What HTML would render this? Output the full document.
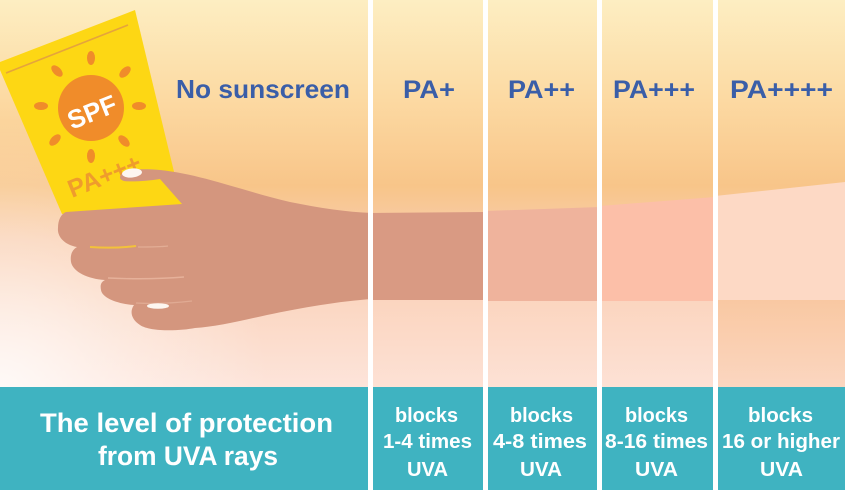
<!DOCTYPE html>
<html>
<head>
<meta charset="utf-8">
<style>
  html, body { margin: 0; padding: 0; width: 845px; height: 490px; overflow: hidden; background: #fbd8b8; }
  svg { display: block; }
  text { font-family: "Liberation Sans", sans-serif; font-weight: bold; }
</style>
</head>
<body>
<svg width="845" height="490" viewBox="0 0 845 490" xmlns="http://www.w3.org/2000/svg">
  <defs>
    <linearGradient id="bg" x1="0" y1="0" x2="0" y2="387" gradientUnits="userSpaceOnUse">
      <stop offset="0" stop-color="#fdeec2"/>
      <stop offset="0.25" stop-color="#fcdaa3"/>
      <stop offset="0.48" stop-color="#f8c589"/>
      <stop offset="0.62" stop-color="#f9cdae"/>
      <stop offset="0.8" stop-color="#fbd8c4"/>
      <stop offset="1" stop-color="#fde4da"/>
    </linearGradient>
    <radialGradient id="glow" cx="0" cy="390" r="270" gradientUnits="userSpaceOnUse">
      <stop offset="0" stop-color="#ffffff" stop-opacity="0.8"/>
      <stop offset="0.5" stop-color="#ffffff" stop-opacity="0.35"/>
      <stop offset="1" stop-color="#ffffff" stop-opacity="0"/>
    </radialGradient>
    <linearGradient id="c4low" x1="0" y1="300" x2="0" y2="387" gradientUnits="userSpaceOnUse">
      <stop offset="0" stop-color="#f9c8a2"/>
      <stop offset="1" stop-color="#fbd6c0"/>
    </linearGradient>
    <linearGradient id="clow" x1="0" y1="300" x2="0" y2="387" gradientUnits="userSpaceOnUse">
      <stop offset="0" stop-color="#fbd5bf"/>
      <stop offset="1" stop-color="#fde1d5"/>
    </linearGradient>
  </defs>

  <!-- background -->
  <rect x="0" y="0" width="845" height="490" fill="url(#bg)"/>
  <rect x="0" y="0" width="373" height="387" fill="url(#glow)"/>

  <!-- lower sections in columns -->
  <rect x="373" y="300" width="345" height="87" fill="url(#clow)"/>
  <rect x="718" y="300" width="127" height="87" fill="url(#c4low)"/>

  <!-- arm segments -->
  <polygon points="370,213 485,212 485,300 370,300" fill="#d99a83"/>
  <polygon points="485,211 600,207 600,301 485,301" fill="#efb39c"/>
  <polygon points="600,206 715,197 715,301 600,301" fill="#fcbfa8"/>
  <polygon points="715,196 845,182 845,300 715,300" fill="#fdd9c5"/>

  <!-- sunscreen tube -->
  <polygon points="0,62 135,10 182,205 62,214 0,70" fill="#fdd714"/>
  <line x1="6" y1="73" x2="128" y2="25" stroke="#e5a43c" stroke-width="1.6"/>
  <!-- sun -->
  <g fill="#f08c2a">
    <circle cx="91" cy="108" r="33"/>
    <ellipse cx="91" cy="58" rx="4" ry="7"/>
    <ellipse cx="91" cy="156" rx="4" ry="7"/>
    <ellipse cx="41" cy="106" rx="7" ry="4"/>
    <ellipse cx="139" cy="106" rx="7" ry="4"/>
    <ellipse cx="57" cy="71" rx="4" ry="7" transform="rotate(-45 57 71)"/>
    <ellipse cx="125" cy="72" rx="4" ry="7" transform="rotate(45 125 72)"/>
    <ellipse cx="55" cy="140" rx="4" ry="7" transform="rotate(45 55 140)"/>
    <ellipse cx="124" cy="141" rx="4" ry="7" transform="rotate(-45 124 141)"/>
  </g>
  <text x="92" y="121" text-anchor="middle" font-size="26" fill="#ffffff" transform="rotate(-22 92 112)">SPF</text>
  <text x="72" y="198" font-size="25" fill="#ef9c2c" transform="rotate(-22 72 198)">PA+++</text>

  <!-- hand -->
  <path d="M 120,177
           C 121,170 135,168 160,170
           C 200,174 240,190 290,202
           C 320,208 345,212 373,213
           L 373,299
           C 340,301 300,308 267,315
           C 240,321 215,327 195,328
           C 180,331 150,332 140,325
           C 132,320 129,312 134,305
           C 118,304 102,298 101,290
           C 100,285 101,282 105,280
           C 88,279 73,272 71,262
           C 70,255 72,250 77,247
           C 65,245 57,237 58,228
           C 58,220 61,214 66,212
           L 182,204
           L 160,179
           C 148,181 132,182 124,181
           C 121,180 120,179 120,177 Z" fill="#d4967e"/>
  <!-- finger details -->
  <path d="M 90,247 C 105,248 120,248 136,246" stroke="#f3c23a" stroke-width="2" fill="none"/>
  <path d="M 138,247 C 150,247 160,247 168,246" stroke="#e2ad95" stroke-width="1.2" fill="none"/>
  <path d="M 108,278 C 130,279 160,279 184,277" stroke="#e6b19a" stroke-width="1.4" fill="none"/>
  <path d="M 136,303 C 155,304 175,303 192,301" stroke="#e0aa93" stroke-width="1.2" fill="none"/>
  <ellipse cx="132" cy="173" rx="10" ry="4.5" fill="#fdf6f0" transform="rotate(-6 132 173)"/>
  <ellipse cx="158" cy="306" rx="11" ry="2.8" fill="#fdf6f0"/>

  <!-- headings -->
  <text x="176" y="98" font-size="26" fill="#3a5ea8" textLength="174" lengthAdjust="spacingAndGlyphs">No sunscreen</text>
  <text x="403" y="98" font-size="25" fill="#3a5ea8" textLength="52" lengthAdjust="spacingAndGlyphs">PA+</text>
  <text x="508" y="98" font-size="25" fill="#3a5ea8" textLength="67" lengthAdjust="spacingAndGlyphs">PA++</text>
  <text x="613" y="98" font-size="25" fill="#3a5ea8" textLength="82" lengthAdjust="spacingAndGlyphs">PA+++</text>
  <text x="730" y="98" font-size="25" fill="#3a5ea8" textLength="103" lengthAdjust="spacingAndGlyphs">PA++++</text>

  <!-- teal band -->
  <rect x="0" y="387" width="845" height="103" fill="#3fb3c1"/>

  <text x="40" y="432" font-size="27" fill="#ffffff" textLength="293" lengthAdjust="spacingAndGlyphs">The level of protection</text>
  <text x="98" y="465" font-size="27" fill="#ffffff" textLength="180" lengthAdjust="spacingAndGlyphs">from UVA rays</text>

  <g font-size="20" fill="#ffffff">
    <text x="395" y="422" textLength="63" lengthAdjust="spacingAndGlyphs">blocks</text>
    <text x="383" y="448" textLength="89" lengthAdjust="spacingAndGlyphs">1-4 times</text>
    <text x="407" y="476" textLength="41" lengthAdjust="spacingAndGlyphs">UVA</text>

    <text x="510" y="422" textLength="63" lengthAdjust="spacingAndGlyphs">blocks</text>
    <text x="493" y="448" textLength="94" lengthAdjust="spacingAndGlyphs">4-8 times</text>
    <text x="520" y="476" textLength="42" lengthAdjust="spacingAndGlyphs">UVA</text>

    <text x="625" y="422" textLength="63" lengthAdjust="spacingAndGlyphs">blocks</text>
    <text x="605" y="448" textLength="103" lengthAdjust="spacingAndGlyphs">8-16 times</text>
    <text x="635" y="476" textLength="43" lengthAdjust="spacingAndGlyphs">UVA</text>

    <text x="748" y="422" textLength="65" lengthAdjust="spacingAndGlyphs">blocks</text>
    <text x="722" y="448" textLength="118" lengthAdjust="spacingAndGlyphs">16 or higher</text>
    <text x="760" y="476" textLength="43" lengthAdjust="spacingAndGlyphs">UVA</text>
  </g>

  <!-- white dividers -->
  <g fill="#ffffff">
    <rect x="368" y="0" width="5" height="490"/>
    <rect x="483" y="0" width="5" height="490"/>
    <rect x="597" y="0" width="5" height="490"/>
    <rect x="713" y="0" width="5" height="490"/>
  </g>
</svg>
</body>
</html>
